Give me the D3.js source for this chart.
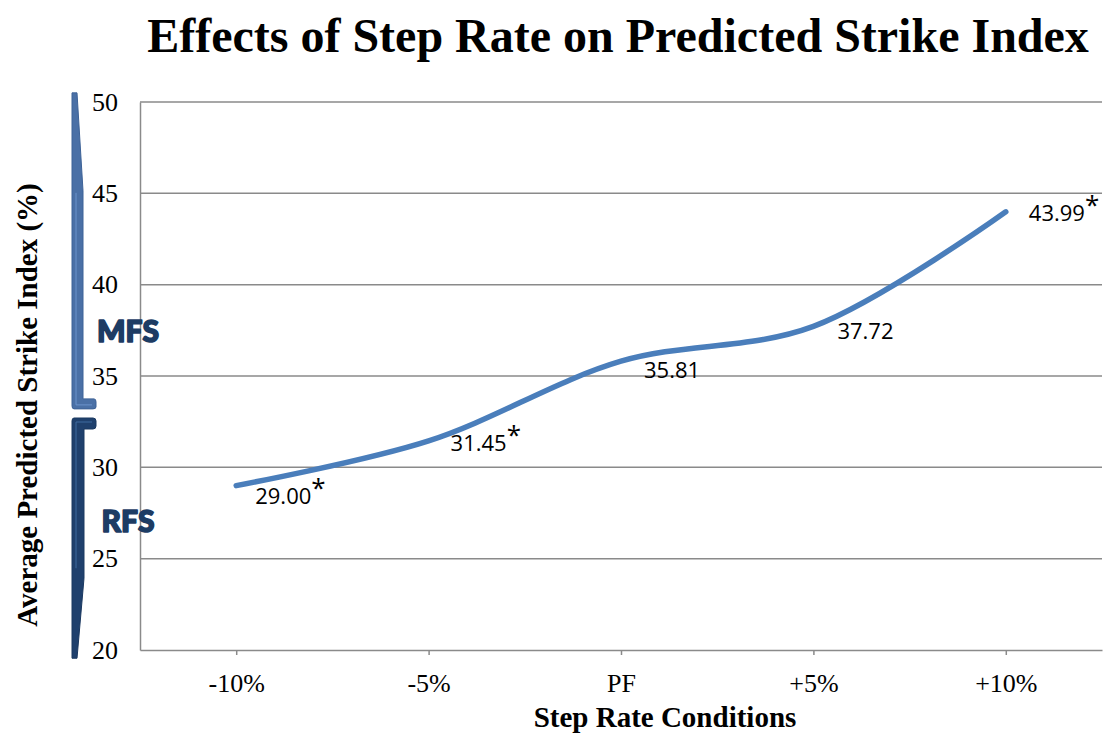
<!DOCTYPE html>
<html><head><meta charset="utf-8">
<script src="https://cdn.jsdelivr.net/npm/d3@7"></script>
<style>body{margin:0;background:#fff}svg{display:block}</style>
</head><body>
<svg id="c" width="1103" height="735"></svg>
<script>
const categories = ["-10%", "-5%", "PF", "+5%", "+10%"];
const values = [29.00, 31.45, 35.81, 37.72, 43.99];
const significant = [true, true, false, false, true];
const yTicks = [20, 25, 30, 35, 40, 45, 50];
const zones = [
  {name: "MFS", from: 33.2, to: 50.5, labelAt: 37.5},
  {name: "RFS", from: 19.55, to: 32.7, labelAt: 27.1}
];

const svg = d3.select("#c");
const m = {left: 140, right: 1102, top: 102, bottom: 650};

const x = d3.scalePoint().domain(categories).range([m.left, m.right]).padding(0.5);
const y = d3.scaleLinear().domain([20, 50]).range([m.bottom, m.top]);

const grey = "#8a8a8a";
const serif = "'Liberation Serif','Times New Roman',serif";

// gridlines
svg.append("g").selectAll("line").data(yTicks.filter(t => t > 20)).join("line")
  .attr("x1", m.left).attr("x2", m.right)
  .attr("y1", d => y(d)).attr("y2", d => y(d))
  .attr("stroke", grey).attr("stroke-width", 1.5);

// y axis
const ya = svg.append("g").attr("transform", `translate(${m.left},0)`)
  .call(d3.axisLeft(y).tickValues(yTicks).tickSize(0).tickPadding(22).tickFormat(d3.format("d")));
ya.select(".domain").attr("stroke", grey).attr("stroke-width", 1.5);
ya.selectAll("text").attr("font-family", serif).attr("font-size", 26).attr("fill", "#000");

// x axis
const xa = svg.append("g").attr("transform", `translate(0,${m.bottom})`)
  .call(d3.axisBottom(x).tickSize(5).tickPadding(19).tickSizeOuter(0));
xa.select(".domain").attr("stroke", grey).attr("stroke-width", 1.5);
xa.selectAll(".tick line").attr("stroke", grey).attr("stroke-width", 1.5);
xa.selectAll("text").attr("font-family", serif).attr("font-size", 26).attr("fill", "#000");

// line
const pts = categories.map((c, i) => [x(c), y(values[i])]);
svg.append("path").datum(pts)
  .attr("d", d3.line().curve(d3.curveCatmullRom.alpha(0.5)))
  .attr("fill", "none").attr("stroke", "#4a7ebb").attr("stroke-width", 5.5)
  .attr("stroke-linecap", "round").attr("stroke-linejoin", "round");

// data labels
const nudge = [[19, 18], [22, 10], [23, 17], [24, 13], [23, 9]];
const lab = svg.append("g").selectAll("text").data(values).join("text")
  .attr("x", (d, i) => x(categories[i]) + nudge[i][0])
  .attr("y", (d, i) => y(d) + nudge[i][1])
  .attr("font-family", "'Open Sans', Lato, sans-serif").attr("font-size", 22).attr("fill", "#000");
lab.append("tspan").text(d => d.toFixed(2));
lab.append("tspan").attr("dy", -7).attr("font-size", 26)
  .text((d, i) => significant[i] ? "*" : "");

// zone brackets
const bx = 72;
const mfs = zones[0], rfs = zones[1];
const mt = y(mfs.to), mb = y(mfs.from);
svg.append("path")
  .attr("d", `M${bx},${mt} L${bx+5},${mt} L${bx+11},${mt+98} L${bx+11},${mb-10} L${bx+22},${mb-10} Q${bx+24},${mb-10} ${bx+24},${mb-7} L${bx+24},${mb-2} Q${bx+24},${mb} ${bx+21},${mb} L${bx+2},${mb} Q${bx},${mb} ${bx},${mb-3} Z`)
  .attr("fill", "#4a70a6").attr("stroke", "#3d6297").attr("stroke-width", 1);
svg.append("path")
  .attr("d", `M${bx+4},${mt+100} L${bx+4},${mb-4} L${bx+20},${mb-4}`)
  .attr("fill", "none").attr("stroke", "#6b93cc").attr("stroke-width", 1);

const rt = y(rfs.to), rb = y(rfs.from);
svg.append("path")
  .attr("d", `M${bx+2},${rt} L${bx+21},${rt} Q${bx+24},${rt} ${bx+24},${rt+3} L${bx+24},${rt+8} Q${bx+24},${rt+11} ${bx+21},${rt+11} L${bx+12},${rt+11} L${bx+12},${rb-80} L${bx+5},${rb} L${bx},${rb} L${bx},${rt+3} Q${bx},${rt} ${bx+2},${rt} Z`)
  .attr("fill", "#1f406d").attr("stroke", "#1a3860").attr("stroke-width", 1);
svg.append("path")
  .attr("d", `M${bx+4},${rb-90} L${bx+4},${rt+4} L${bx+20},${rt+4}`)
  .attr("fill", "none").attr("stroke", "#3f6aa0").attr("stroke-width", 1);

svg.append("g").selectAll("text").data(zones).join("text")
  .attr("x", 128)
  .attr("y", d => y(d.labelAt))
  .attr("text-anchor", "middle").attr("dominant-baseline", "central")
  .attr("font-family", "Lato, 'Open Sans', sans-serif").attr("font-weight", 900)
  .attr("font-size", 30).attr("fill", "#1d3c64")
  .attr("stroke", "#1d3c64").attr("stroke-width", 1.6).attr("stroke-linejoin", "round")
  .text(d => d.name);

// titles
svg.append("text").attr("x", 618).attr("y", 52).attr("text-anchor", "middle")
  .attr("font-family", serif).attr("font-weight", "bold").attr("font-size", 48)
  .text("Effects of Step Rate on Predicted Strike Index");
svg.append("text").attr("x", 665).attr("y", 727).attr("text-anchor", "middle")
  .attr("font-family", serif).attr("font-weight", "bold").attr("font-size", 29)
  .text("Step Rate Conditions");
svg.append("text").attr("transform", "translate(37,405) rotate(-90)").attr("text-anchor", "middle")
  .attr("font-family", serif).attr("font-weight", "bold").attr("font-size", 29)
  .text("Average Predicted Strike Index (%)");
</script>
</body></html>
